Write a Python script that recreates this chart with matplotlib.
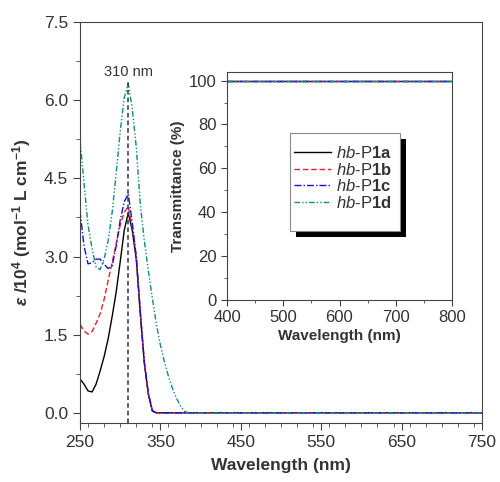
import matplotlib
matplotlib.use("Agg")
import matplotlib.pyplot as plt
import matplotlib.patheffects as pe
from matplotlib.patches import Rectangle
from matplotlib.ticker import MultipleLocator

plt.rcParams["font.family"] = ["Liberation Sans", "DejaVu Sans"]
plt.rcParams["mathtext.fontset"] = "custom"
plt.rcParams["mathtext.rm"] = "Liberation Sans"
plt.rcParams["mathtext.it"] = "Liberation Sans:italic"
plt.rcParams["mathtext.bf"] = "Liberation Sans:bold"
plt.rcParams["mathtext.bfit"] = "Liberation Sans:bold:italic"

# absorption spectra (wavelength in nm, epsilon in 10^4 mol-1 L cm-1)
wl = list(range(250, 390, 5)) + [750]
p1a = [0.65, 0.55, 0.42, 0.40, 0.55, 0.80, 1.08, 1.42, 1.85, 2.32, 2.90, 3.50, 3.84,
       3.50, 2.95, 1.90, 0.95, 0.36, 0.03, 0.0, 0.0, 0.0, 0.0, 0.0, 0.0, 0.0, 0.0, 0.0, 0.0]
p1b = [1.70, 1.57, 1.51, 1.56, 1.72, 1.90, 2.18, 2.54, 2.88, 3.25, 3.60, 3.85, 3.96,
       3.55, 2.98, 1.92, 0.96, 0.37, 0.04, 0.0, 0.0, 0.0, 0.0, 0.0, 0.0, 0.0, 0.0, 0.0, 0.0]
p1c = [3.88, 3.20, 2.86, 2.88, 2.95, 2.95, 2.85, 2.77, 2.82, 3.20, 3.70, 4.05, 4.20,
       3.65, 3.00, 1.95, 0.98, 0.37, 0.04, 0.0, 0.0, 0.0, 0.0, 0.0, 0.0, 0.0, 0.0, 0.0, 0.0]
p1d = [5.25, 4.40, 3.60, 3.15, 2.80, 2.75, 2.95, 3.30, 3.85, 4.60, 5.40, 6.05, 6.32,
       5.85, 5.10, 4.00, 3.30, 2.73, 2.20, 1.70, 1.30, 0.98, 0.70, 0.47, 0.28, 0.13, 0.03, 0.0, 0.0]

# transmittance (inset)
wl_t = [400, 800]
t_a = [100, 100]
t_b = [100, 100]
t_c = [100, 100]
t_d = [100, 100]

labels = [r"$\it{hb}$-P$\bf{1a}$", r"$\it{hb}$-P$\bf{1b}$",
          r"$\it{hb}$-P$\bf{1c}$", r"$\it{hb}$-P$\bf{1d}$"]
colors = ["black", "#e8202a", "#1010e0", "#108a8a"]
styles = ["-", (0, (4, 2)), (0, (5, 1.5, 1, 1.5)), (0, (4, 1.5, 1, 1.5, 1, 1.5))]

peak_wl = 310
peak_top = 6.35

txt = "#333333"
spc = "#444444"

W, H = 500, 482
fig = plt.figure(figsize=(W / 100, H / 100), dpi=100)
ax = fig.add_axes([0.16, 0.122, 0.804, 0.832])

for y, c, ls in zip([p1a, p1b, p1c, p1d], colors, styles):
    ax.plot(wl, y, color=c, linestyle=ls, linewidth=1.0)

ax.vlines(peak_wl, -0.2, peak_top, colors="#333333", linestyles=(0, (3, 2)), linewidth=1.1)
ax.text(peak_wl, 6.55, "310 nm", ha="center", va="center", fontsize=10.5, color=txt)

ax.set_xlim(250, 750)
ax.set_ylim(-0.2, 7.5)
ax.set_xticks([250, 350, 450, 550, 650, 750])
ax.xaxis.set_minor_locator(MultipleLocator(20))
ax.set_yticks([0, 1.5, 3.0, 4.5, 6.0, 7.5])
ax.set_yticklabels(["0.0", "1.5", "3.0", "4.5", "6.0", "7.5"])
ax.yaxis.set_minor_locator(MultipleLocator(0.75))
ax.tick_params(which="both", direction="out", colors=spc, labelcolor=txt, labelsize=12.5)
ax.tick_params(which="major", length=5)
ax.tick_params(which="minor", length=3)
for s in ax.spines.values():
    s.set_color(spc)
ax.set_xlabel("Wavelength (nm)", fontsize=12.5, fontweight="bold", color=txt, labelpad=6)
ax.set_ylabel(r"$\mathbfit{\epsilon}$ $\mathbf{/10^4\ (mol^{-1}\ L\ cm^{-1})}$",
              fontsize=12.5, color=txt, labelpad=8)

# inset
ins = fig.add_axes([0.454, 0.378, 0.45, 0.473])
for y, c, ls, lab in zip([t_a, t_b, t_c, t_d], colors, styles, labels):
    ins.plot(wl_t, y, color=c, linestyle=ls, linewidth=1.0, label=lab)
ins.set_xlim(400, 800)
ins.set_ylim(0, 104)
ins.set_xticks([400, 500, 600, 700, 800])
ins.xaxis.set_minor_locator(MultipleLocator(50))
ins.set_yticks([0, 20, 40, 60, 80, 100])
ins.yaxis.set_minor_locator(MultipleLocator(10))
ins.tick_params(which="both", direction="out", colors=spc, labelcolor=txt, labelsize=12)
ins.tick_params(which="major", length=4)
ins.tick_params(which="minor", length=2.5)
for s in ins.spines.values():
    s.set_color(spc)
ins.set_xlabel("Wavelength (nm)", fontsize=11, fontweight="bold", color=txt, labelpad=3)
ins.set_ylabel("Transmittance (%)", fontsize=11, fontweight="bold", color=txt, labelpad=3)

# legend box with solid drop shadow
box = Rectangle((290 / W, 1 - 231 / H), 110 / W, 98 / H, transform=fig.transFigure,
                facecolor="white", edgecolor="#888888", linewidth=0.8, zorder=4, clip_on=False)
box.set_path_effects([pe.SimplePatchShadow(offset=(4, -4), shadow_rgbFace="black", alpha=1),
                      pe.Normal()])
ins.add_patch(box)

leg = ins.legend(loc="upper left", bbox_to_anchor=(294 / W, 1 - 145 / H),
                 bbox_transform=fig.transFigure, borderaxespad=0, borderpad=0, fontsize=12,
                 handlelength=2.2, handletextpad=0.35, labelspacing=0.04, frameon=False)
for t in leg.get_texts():
    t.set_color(txt)

fig.savefig("out.png", dpi=100)
